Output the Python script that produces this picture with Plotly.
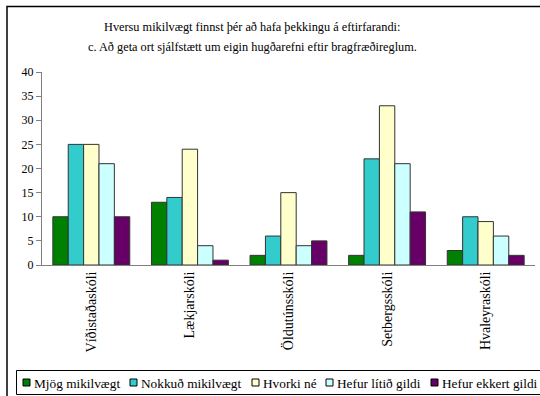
import plotly.graph_objects as go

schools = ["Víðistaðaskóli", "Lækjarskóli", "Öldutúnsskóli", "Setbergsskóli", "Hvaleyraskóli"]
series_names = ["Mjög mikilvægt", "Nokkuð mikilvægt", "Hvorki né", "Hefur lítið gildi", "Hefur ekkert gildi"]
mjog = [10, 13, 2, 2, 3]
nokkud = [25, 14, 6, 22, 10]
hvorki = [25, 24, 15, 33, 9]
litid = [21, 4, 4, 21, 6]
ekkert = [10, 1, 5, 11, 2]
series_values = [mjog, nokkud, hvorki, litid, ekkert]
colors = ["#008000", "#33CCCC", "#FFFFCC", "#CCFFFF", "#660066"]
y_ticks = [0, 5, 10, 15, 20, 25, 30, 35, 40]
title_lines = ["Hversu mikilvægt finnst þér að hafa þekkingu á eftirfarandi:",
               "c. Að geta ort sjálfstætt um eigin hugðarefni eftir bragfræðireglum."]

W, H = 540, 396
L, R, T, B = 42, 5, 72, 131
PW, PH = W - L - R, H - T - B
FONT = "Liberation Serif"


def px(x):
    return (x - L) / PW


def py(y):
    return (H - B - y) / PH


fig = go.Figure()
for name, vals, col in zip(series_names, series_values, colors):
    fig.add_trace(go.Bar(x=schools, y=vals, name=name,
                         marker=dict(color=col, line=dict(color="#333333", width=1))))

shapes = []
annotations = []
# outer chart frame
shapes.append(dict(type="rect", xref="paper", yref="paper", x0=px(7), x1=px(560), y0=py(6.5), y1=py(420),
                   line=dict(color="#000000", width=1.5), fillcolor="rgba(0,0,0,0)", layer="below"))
# legend box
shapes.append(dict(type="rect", xref="paper", yref="paper", x0=px(16.5), x1=px(560), y0=py(370.5), y1=py(394.5),
                   line=dict(color="#000000", width=1), fillcolor="rgba(0,0,0,0)"))
sq_x = [23, 130, 252, 326, 431]
for name, col, sx in zip(series_names, colors, sq_x):
    shapes.append(dict(type="rect", xref="paper", yref="paper", x0=px(sx), x1=px(sx + 7),
                       y0=py(379), y1=py(386), fillcolor=col, line=dict(color="#000000", width=1)))
    annotations.append(dict(xref="paper", yref="paper", x=px(sx + 9), y=py(383), text=name,
                            showarrow=False, xanchor="left", yanchor="middle",
                            font=dict(family=FONT, size=13.3, color="#000000")))

for i, (line, yy) in enumerate(zip(title_lines, [27, 47])):
    annotations.append(dict(xref="paper", yref="paper", x=px(252), y=py(yy), text=line,
                            showarrow=False, xanchor="center", yanchor="middle",
                            font=dict(family=FONT, size=12.3, color="#000000")))

fig.update_layout(
    width=W, height=H, autosize=False,
    margin=dict(l=L, r=R, t=T, b=B, pad=0),
    paper_bgcolor="white", plot_bgcolor="white",
    barmode="group", bargap=0.22, bargroupgap=0,
    showlegend=False,
    shapes=shapes, annotations=annotations,
    font=dict(family=FONT, size=12, color="#000000"),
)
fig.update_xaxes(showline=True, linecolor="#808080", linewidth=1, ticks="", tickangle=-90,
                 tickfont=dict(family=FONT, size=14), showgrid=False, zeroline=False)
fig.update_yaxes(range=[0, 40], tickvals=y_ticks, showline=True, linecolor="#808080", linewidth=1,
                 ticks="outside", ticklen=5, tickcolor="#808080", showgrid=False, zeroline=False,
                 tickfont=dict(family=FONT, size=12))

fig.write_html("out.html")
